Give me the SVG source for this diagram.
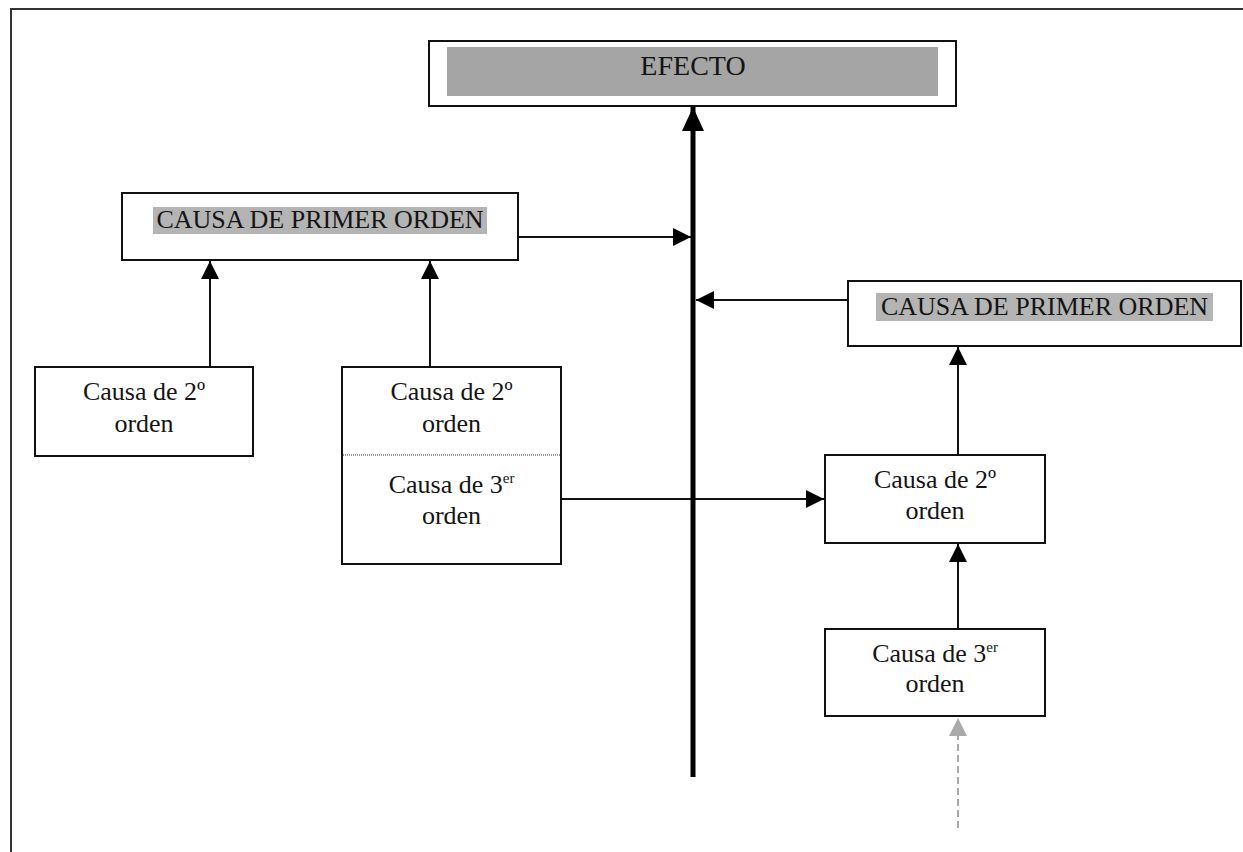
<svg xmlns="http://www.w3.org/2000/svg" width="1243" height="852" viewBox="0 0 1243 852">
  <style>
    .box { fill: #fff; stroke: #111; stroke-width: 2; }
    .t { font-family: "Liberation Serif", "Times New Roman", serif; font-size: 26px; fill: #141414; text-anchor: middle; }
    .sup { font-size: 15px; }
    .hl { fill: #b4b4b4; }
    .conn { stroke: #111; stroke-width: 2; fill: none; }
  </style>
  <defs>
    <marker id="ah" markerUnits="userSpaceOnUse" markerWidth="18" markerHeight="18" refX="18" refY="9" orient="auto">
      <path d="M0,0 L18,9 L0,18 z" fill="#000"/>
    </marker>
    <marker id="ahBig" markerUnits="userSpaceOnUse" markerWidth="24" markerHeight="24" refX="24" refY="12" orient="auto">
      <path d="M0,1 L24,12 L0,23 z" fill="#000"/>
    </marker>
    <marker id="ahGray" markerUnits="userSpaceOnUse" markerWidth="18" markerHeight="18" refX="18" refY="9" orient="auto">
      <path d="M0,0 L18,9 L0,18 z" fill="#aaa"/>
    </marker>
  </defs>
  <rect width="1243" height="852" fill="#fff"/>
  <!-- outer frame -->
  <path d="M11,852 L11,9 L1243,9" fill="none" stroke="#333" stroke-width="2"/>

  <g id="connectors">
    <line class="conn" x1="518" y1="237" x2="691" y2="237" marker-end="url(#ah)"/>
    <line class="conn" x1="848" y1="300" x2="696" y2="300" marker-end="url(#ah)"/>
    <line class="conn" x1="210" y1="367" x2="210" y2="261" marker-end="url(#ah)"/>
    <line class="conn" x1="430" y1="367" x2="430" y2="261" marker-end="url(#ah)"/>
    <line class="conn" x1="561" y1="499" x2="824" y2="499" marker-end="url(#ah)"/>
    <line class="conn" x1="958" y1="455" x2="958" y2="347" marker-end="url(#ah)"/>
    <line class="conn" x1="958" y1="629" x2="958" y2="544" marker-end="url(#ah)"/>
    <line x1="958" y1="828" x2="958" y2="718" stroke="#aaa" stroke-width="2" stroke-dasharray="7,4" marker-end="url(#ahGray)"/>
    <line x1="693" y1="777" x2="693" y2="107" stroke="#000" stroke-width="5" marker-end="url(#ahBig)"/>
  </g>

  <g id="efecto">
    <rect class="box" x="429" y="41" width="527" height="65"/>
    <rect x="447" y="47" width="491" height="49" fill="#a5a5a5"/>
    <text class="t" x="693" y="75" style="font-size:28px">EFECTO</text>
  </g>

  <g id="causa1-left">
    <rect class="box" x="122" y="193" width="396" height="67"/>
    <rect class="hl" x="153" y="207" width="334" height="27"/>
    <text class="t" x="320" y="228">CAUSA DE PRIMER ORDEN</text>
  </g>

  <g id="causa1-right">
    <rect class="box" x="848" y="281" width="393" height="65"/>
    <rect class="hl" x="876" y="293" width="337" height="28"/>
    <text class="t" x="1044.5" y="315">CAUSA DE PRIMER ORDEN</text>
  </g>

  <g id="causa2-left">
    <rect class="box" x="35" y="367" width="218" height="89"/>
    <text class="t" x="144" y="400">Causa de 2º</text>
    <text class="t" x="144" y="432">orden</text>
  </g>

  <g id="causa2-3-middle">
    <rect class="box" x="342" y="367" width="219" height="197"/>
    <line x1="343" y1="455" x2="560" y2="455" stroke="#999" stroke-width="2" stroke-dasharray="1,1"/>
    <text class="t" x="451.5" y="400">Causa de 2º</text>
    <text class="t" x="451.5" y="432">orden</text>
    <text class="t" x="451.5" y="493">Causa de 3<tspan class="sup" dy="-10">er</tspan></text>
    <text class="t" x="451.5" y="524">orden</text>
  </g>

  <g id="causa2-right">
    <rect class="box" x="825" y="455" width="220" height="88"/>
    <text class="t" x="935" y="488">Causa de 2º</text>
    <text class="t" x="935" y="519">orden</text>
  </g>

  <g id="causa3-right">
    <rect class="box" x="825" y="629" width="220" height="87"/>
    <text class="t" x="935" y="662">Causa de 3<tspan class="sup" dy="-10">er</tspan></text>
    <text class="t" x="935" y="692">orden</text>
  </g>
</svg>
